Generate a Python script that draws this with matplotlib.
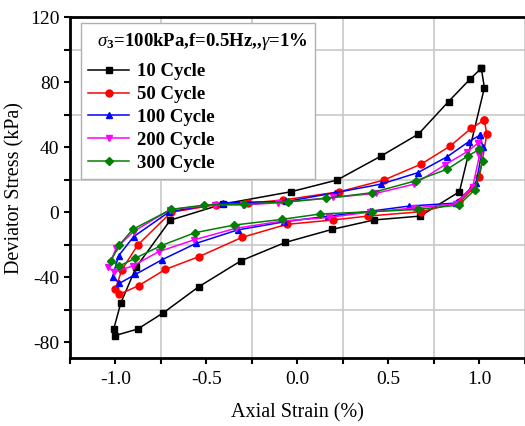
import matplotlib

matplotlib.use("Agg")
import matplotlib.pyplot as plt
from matplotlib.ticker import MultipleLocator

OUTPUT_PATH = "out.png"

LEGEND_TITLE = r"  $\sigma_3$=100kPa,f=0.5Hz,,$\gamma$=1%"
X_LABEL = "Axial Strain (%)"
Y_LABEL = "Deviator Stress (kPa)"

# each loop: from the right peak down the unloading branch, then back up the loading branch
STRAIN_10 = [1.01, 1.027, 0.89, 0.674, 0.42, 0.19, -0.066, -0.31, -0.542, -0.736, -0.877,
             -1.0, -1.009, -0.97, -0.886, -0.698, -0.41, -0.035, 0.218, 0.46, 0.665, 0.83, 0.95, 1.01]
STRESS_10 = [88.5, 76.5, 12.5, -2.5, -4.9, -10.7, -18.7, -30.0, -46.0, -62.0, -72.0,
             -76.0, -72.0, -56.0, -34.0, -5.0, 4.9, 12.5, 19.7, 34.5, 48.0, 68.0, 82.0, 88.5]

STRAIN_50 = [1.027, 1.04, 1.0, 0.965, 0.89, 0.68, 0.387, 0.194, -0.059, -0.304, -0.542,
             -0.725, -0.872, -0.98, -1.0, -0.965, -0.877, -0.694, -0.447, -0.27, -0.077,
             0.231, 0.473, 0.68, 0.839, 0.954, 1.027]
STRESS_50 = [56.6, 47.8, 21.7, 14.5, 6.0, 0.2, -2.5, -4.9, -7.6, -15.6, -27.5,
             -35.3, -45.3, -50.7, -47.6, -35.7, -20.3, -0.2, 4.5, 5.5, 7.4,
             12.5, 19.6, 29.5, 40.6, 51.5, 56.6]

STRAIN_100 = [1.004, 1.018, 0.982, 0.87, 0.615, 0.4, 0.17, -0.071, -0.328, -0.557, -0.746,
              -0.89, -0.978, -1.015, -0.982, -0.9, -0.703, -0.41, -0.06, 0.209, 0.46,
              0.661, 0.822, 0.941, 1.004]
STRESS_100 = [47.4, 39.8, 18.0, 5.5, 3.7, 0.5, -2.5, -6.0, -11.0, -19.3, -29.5,
              -38.4, -43.9, -39.8, -26.9, -15.2, 0.2, 5.7, 6.5, 11.9, 17.2,
              24.2, 34.0, 43.3, 47.4]

STRAIN_200 = [0.991, 1.0, 0.963, 0.87, 0.64, 0.4, 0.176, -0.08, -0.337, -0.57, -0.762,
              -0.905, -1.005, -1.04, -0.996, -0.9, -0.7, -0.45, -0.3, -0.108, 0.198,
              0.432, 0.643, 0.808, 0.93, 0.991]
STRESS_200 = [42.3, 35.0, 15.6, 5.0, 2.5, 0.0, -3.3, -5.5, -10.0, -17.2, -24.4,
              -33.2, -37.0, -34.0, -22.4, -12.0, 1.5, 4.5, 4.3, 5.7, 9.0,
              11.5, 17.2, 28.9, 37.0, 42.3]

STRAIN_300 = [1.0, 1.018, 0.973, 0.886, 0.661, 0.41, 0.125, -0.084, -0.346, -0.562, -0.749,
              -0.892, -0.978, -1.024, -0.978, -0.905, -0.694, -0.511, -0.291, -0.053, 0.158,
              0.41, 0.652, 0.822, 0.936, 1.0]
STRESS_300 = [38.6, 31.6, 13.5, 4.3, 1.6, 0.2, -1.2, -4.5, -8.0, -12.7, -20.7,
              -28.5, -33.2, -30.0, -20.3, -10.7, 1.6, 4.3, 4.9, 6.3, 8.4,
              11.9, 19.3, 26.3, 34.5, 38.6]

SERIES = [
    ("10 Cycle", STRAIN_10, STRESS_10, "black", "s"),
    ("50 Cycle", STRAIN_50, STRESS_50, "#ff0000", "o"),
    ("100 Cycle", STRAIN_100, STRESS_100, "#0000ff", "^"),
    ("200 Cycle", STRAIN_200, STRESS_200, "#ff00ff", "v"),
    ("300 Cycle", STRAIN_300, STRESS_300, "#008000", "D"),
]


def setup_style() -> None:
    plt.rcParams["font.family"] = ["Liberation Serif", "DejaVu Serif"]
    plt.rcParams["axes.unicode_minus"] = False
    plt.rcParams["mathtext.fontset"] = "custom"
    plt.rcParams["mathtext.rm"] = "Liberation Serif:bold"
    plt.rcParams["mathtext.it"] = "Liberation Serif:italic"
    plt.rcParams["mathtext.bf"] = "Liberation Serif:bold"


def draw_chart() -> None:
    fig = plt.figure(figsize=(5.25, 4.26), dpi=100)
    ax = fig.add_axes([0.133, 0.159, 0.867, 0.801])

    for label, strain, stress, color, marker in SERIES:
        ms = 4.5 if marker in ("s", "D") else 5
        ax.plot(strain, stress, color=color, marker=marker, markersize=ms,
                linewidth=1.1, label=label)

    ax.set_xlim(-1.25, 1.25)
    ax.set_ylim(-90, 120)
    ax.xaxis.set_major_locator(MultipleLocator(0.5))
    ax.xaxis.set_minor_locator(MultipleLocator(0.25))
    ax.yaxis.set_major_locator(MultipleLocator(40))
    ax.yaxis.set_minor_locator(MultipleLocator(20))
    ax.grid(which="minor", color="#c8c8c8", linewidth=1.2)
    ax.grid(which="major", visible=False)
    ax.set_axisbelow(True)

    ax.tick_params(which="both", direction="out", length=4, width=1.5,
                   labelsize=14, top=False, right=False)
    ax.tick_params(axis="x", which="major", pad=5)
    for side in ("left", "bottom", "top"):
        ax.spines[side].set_linewidth(2.0)
    ax.spines["right"].set_visible(False)

    ax.set_xlabel(X_LABEL, fontsize=14.5, labelpad=11)
    ax.set_ylabel(Y_LABEL, fontsize=14.5, labelpad=4)

    leg = ax.legend(loc="upper left", bbox_to_anchor=(0.024, 0.982), borderaxespad=0,
                    title=LEGEND_TITLE, alignment="left", fancybox=False,
                    edgecolor="#b0b0b0", framealpha=1, handlelength=2.2,
                    labelspacing=0.31, handletextpad=0.4, borderpad=0.4,
                    prop={"weight": "bold", "size": 13.5},
                    title_fontproperties={"weight": "bold", "size": 13.5})
    leg.get_frame().set_linewidth(1.0)
    # a bit more room between the title and the first entry
    leg._legend_box.sep += 4

    fig.savefig(OUTPUT_PATH, dpi=100)
    plt.close(fig)


def main() -> None:
    setup_style()
    draw_chart()


if __name__ == "__main__":
    main()
